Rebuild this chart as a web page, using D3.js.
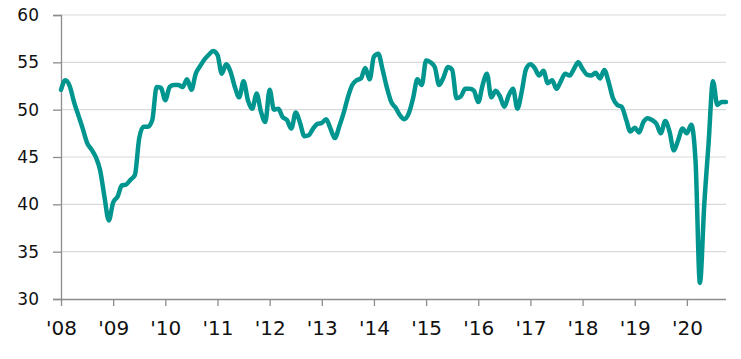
<!DOCTYPE html>
<html>
<head>
<meta charset="utf-8">
<script src="https://cdn.jsdelivr.net/npm/d3@7"></script>
<style>
  html, body { margin: 0; padding: 0; background: #fff; }
  svg { display: block; }
  text { font-family: "DejaVu Sans", sans-serif; fill: #111; }
</style>
</head>
<body>
<svg id="chart" width="741" height="359"></svg>
<script>
// Monthly index values, Jan 2008 .. Oct 2020
const startYear = 2008;
const values = [
  52.1, 53.1, 52.5, 50.8, 49.4, 48.0, 46.5, 45.8, 45.0, 43.6, 40.8, 38.3, // 2008
  40.2, 40.8, 42.0, 42.1, 42.6, 43.1, 47.0, 48.2, 48.2, 48.9, 52.4, 52.3, // 2009
  51.0, 52.4, 52.6, 52.6, 52.4, 53.2, 52.1, 53.8, 54.6, 55.3, 55.8, 56.2, // 2010
  55.8, 53.8, 54.8, 54.0, 52.4, 51.3, 53.0, 51.0, 50.1, 51.7, 49.8, 48.7, // 2011
  52.1, 50.0, 50.1, 49.2, 48.9, 48.0, 49.7, 48.6, 47.2, 47.3, 48.0, 48.5, // 2012
  48.6, 49.0, 48.0, 47.0, 48.2, 49.6, 51.3, 52.6, 53.1, 53.3, 54.4, 53.2, // 2013
  55.6, 55.9, 54.2, 52.3, 50.8, 50.2, 49.4, 49.0, 49.6, 51.2, 53.2, 52.6, // 2014
  55.2, 55.0, 54.5, 52.6, 53.4, 54.5, 54.2, 51.2, 51.4, 52.2, 52.2, 52.0, // 2015
  50.8, 52.6, 53.8, 51.3, 52.0, 51.4, 50.3, 51.5, 52.2, 50.1, 51.9, 54.3, // 2016
  54.8, 54.4, 53.6, 54.1, 52.8, 53.1, 52.2, 53.0, 53.8, 53.6, 54.3, 55.0, // 2017
  54.3, 53.7, 53.6, 53.9, 53.3, 54.2, 52.9, 51.2, 50.5, 50.3, 49.0, 47.7, // 2018
  48.1, 47.6, 48.7, 49.1, 48.9, 48.5, 47.5, 48.8, 47.7, 45.7, 46.8, 48.0, // 2019
  47.5, 48.4, 44.5, 31.7, 40.0, 46.5, 53.0, 50.5, 50.8, 50.8              // 2020
];
const yTicks = [30, 35, 40, 45, 50, 55, 60];
const xTickYears = [2008, 2009, 2010, 2011, 2012, 2013, 2014, 2015, 2016, 2017, 2018, 2019, 2020];
const xTickLabels = ["'08", "'09", "'10", "'11", "'12", "'13", "'14", "'15", "'16", "'17", "'18", "'19", "'20"];

(function () {
const data = values.map((v, i) => ({ t: startYear + i / 12, v }));

const svg = d3.select("#chart");
const mLeft = 61, mRight = 726, mTop = 15, mBottom = 299;

const x = d3.scaleLinear().domain([2008, 2020.75]).range([mLeft, mRight]);
const y = d3.scaleLinear().domain([30, 60]).range([mBottom, mTop]);

// gridlines
svg.append("g")
  .selectAll("line")
  .data(yTicks.filter(d => d > 30))
  .join("line")
  .attr("x1", mLeft).attr("x2", mRight)
  .attr("y1", d => y(d)).attr("y2", d => y(d))
  .attr("stroke", "#d9d9d9").attr("stroke-width", 1.2);

// y axis
const yAxis = svg.append("g")
  .attr("transform", `translate(${mLeft},0)`)
  .call(d3.axisLeft(y).tickValues(yTicks).tickSize(8).tickPadding(14).tickFormat(d3.format("d")));
yAxis.select(".domain").attr("stroke", "#8c8c8c").attr("stroke-width", 1.3);
yAxis.selectAll(".tick line").attr("stroke", "#8c8c8c").attr("stroke-width", 1.3);
yAxis.selectAll("text").attr("font-size", 17).attr("fill", "#111")
  .style("font-family", "'DejaVu Sans', sans-serif");

// x axis
const xAxis = svg.append("g")
  .attr("transform", `translate(0,${mBottom})`)
  .call(d3.axisBottom(x).tickValues(xTickYears).tickSize(7).tickPadding(15)
    .tickFormat((d, i) => xTickLabels[i]));
xAxis.select(".domain").attr("stroke", "#8c8c8c").attr("stroke-width", 1.3)
  .attr("d", `M${mLeft},0.5H${mRight}`);
xAxis.selectAll(".tick line").attr("stroke", "#8c8c8c").attr("stroke-width", 1.3);
xAxis.selectAll("text").attr("font-size", 20).attr("fill", "#111")
  .style("font-family", "'DejaVu Sans', sans-serif");

// line
const line = d3.line()
  .x(d => x(d.t))
  .y(d => y(d.v))
  .curve(d3.curveMonotoneX);

svg.append("path")
  .datum(data)
  .attr("fill", "none")
  .attr("stroke", "#00968f")
  .attr("stroke-width", 4.5)
  .attr("stroke-linejoin", "round")
  .attr("stroke-linecap", "round")
  .attr("d", line);
})();
</script>
</body>
</html>
